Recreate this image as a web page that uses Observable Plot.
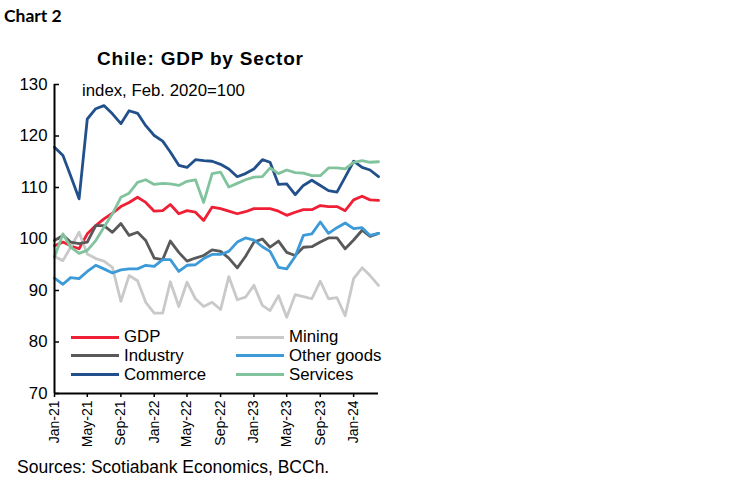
<!DOCTYPE html>
<html>
<head>
<meta charset="utf-8">
<script src="https://cdn.jsdelivr.net/npm/d3@7"></script>
<script src="https://cdn.jsdelivr.net/npm/@observablehq/plot@0.6"></script>
<style>
  body { margin: 0; background: #fff; }
  #wrap { position: relative; width: 749px; height: 482px; background: #fff; font-family: "Liberation Sans", Arial, sans-serif; color: #000; overflow: hidden; }
  .abs { position: absolute; white-space: nowrap; }
  #plot { position: absolute; left: 0; top: 70px; }
  .leg-line { position: absolute; height: 3px; }
  .leg-text { position: absolute; font-size: 16.8px; line-height: 18px; }
</style>
</head>
<body>
<div id="wrap">
  <div class="abs" style="left:4px; top:5px; font-family:'Lato','Open Sans',sans-serif; font-weight:700; font-size:17.5px;">Chart 2</div>
  <div class="abs" style="left:97px; top:48px; font-weight:700; font-size:19px; letter-spacing:0.8px;">Chile: GDP by Sector</div>
  <div id="plot"></div>
  <div class="abs" style="left:82px; top:81px; font-size:16.8px;">index, Feb. 2020=100</div>
  <div id="legend"></div>
  <div class="abs" style="left:17px; top:457px; font-size:17.5px;">Sources: Scotiabank Economics, BCCh.</div>
</div>
<script>
// Monthly, Jan-2021 .. Apr-2024
const months = d3.utcMonths(new Date(Date.UTC(2021, 0, 1)), new Date(Date.UTC(2024, 4, 1)));

const seriesNames = ["GDP", "Mining", "Industry", "Other goods", "Commerce", "Services"];
const seriesColors = ["#ef1f35", "#c9c9c9", "#595959", "#3b9ad7", "#22508a", "#80c39c"];

const gdp = [98.7, 99.4, 98.7, 98.1, 101.0, 102.6, 103.9, 105.0, 106.3, 107.1, 108.1, 107.1,
  105.4, 105.5, 106.7, 104.9, 105.5, 105.2, 103.6, 106.2, 105.9, 105.4, 104.9, 105.3,
  105.9, 105.9, 105.9, 105.4, 104.6, 105.2, 105.7, 105.7, 106.5, 106.3, 106.3, 105.5,
  107.6, 108.3, 107.6, 107.5];
const mining = [96.6, 95.8, 98.4, 101.3, 97.1, 96.2, 95.7, 94.5, 87.9, 92.9, 91.9, 87.7,
  85.6, 85.6, 91.7, 86.9, 91.6, 88.4, 86.9, 87.7, 86.3, 92.7, 88.2, 88.7,
  91.0, 87.1, 86.1, 89.0, 84.8, 89.2, 88.8, 88.4, 91.8, 88.4, 88.6, 85.1,
  92.3, 94.4, 92.9, 91.0];
const industry = [99.7, 100.7, 99.4, 99.1, 99.4, 102.6, 102.6, 101.3, 103.0, 100.7, 101.3, 99.7,
  96.3, 96.0, 99.6, 97.4, 95.7, 96.3, 96.8, 97.9, 97.6, 96.3, 94.4, 96.6,
  99.4, 100.0, 98.4, 99.6, 97.4, 96.8, 98.4, 98.5, 99.4, 100.2, 100.2, 98.1,
  99.8, 101.7, 100.5, 101.1];
const otherGoods = [92.4, 91.2, 92.5, 92.3, 93.7, 94.9, 94.2, 93.4, 94.0, 94.2, 94.2, 94.9,
  94.7, 96.0, 96.0, 93.7, 94.9, 95.0, 96.2, 97.0, 97.0, 97.6, 99.4, 100.2,
  99.8, 98.5, 97.6, 94.5, 94.2, 96.6, 100.7, 101.0, 103.3, 101.1, 102.2, 103.1,
  102.0, 102.2, 100.7, 101.1];
const commerce = [117.8, 116.2, 112.3, 107.8, 123.3, 125.3, 125.9, 124.3, 122.4, 124.9, 124.4, 122.0,
  120.1, 119.0, 116.9, 114.3, 113.9, 115.4, 115.2, 115.1, 114.5, 113.6, 112.1, 112.7,
  113.6, 115.4, 114.9, 110.6, 110.7, 108.6, 110.4, 111.4, 110.4, 109.4, 109.1, 112.0,
  115.1, 113.9, 113.4, 112.1];
const services = [96.5, 101.0, 98.4, 97.2, 97.8, 99.7, 102.3, 104.9, 108.1, 108.9, 111.0, 111.5,
  110.6, 110.8, 110.7, 110.4, 111.2, 111.5, 107.1, 112.7, 113.0, 110.1, 110.8, 111.5,
  112.0, 112.1, 113.8, 112.7, 113.4, 112.9, 112.8, 112.3, 112.3, 113.8, 113.8, 113.6,
  114.9, 115.2, 114.9, 115.0];

const yTicks = [70, 80, 90, 100, 110, 120, 130];
const xTicks = d3.utcMonth.every(4).range(new Date(Date.UTC(2021, 0, 1)), new Date(Date.UTC(2024, 1, 1)));

const seriesValues = [gdp, mining, industry, otherGoods, commerce, services];
const rows = [];
seriesNames.forEach((name, s) => {
  seriesValues[s].forEach((v, i) => rows.push({series: name, date: months[i], value: v}));
});

const width = 400, marginLeft = 54, marginRight = 22;
const frameW = width - marginLeft - marginRight;

const chart = Plot.plot({
  width,
  height: 378,
  marginLeft,
  marginRight,
  marginTop: 14,
  marginBottom: 55,
  style: {fontFamily: "'Liberation Sans', Arial, sans-serif", color: "#000", background: "transparent"},
  x: {type: "utc", domain: [months[0], months[months.length - 1]]},
  y: {domain: [70, 130]},
  color: {domain: seriesNames, range: seriesColors},
  marks: [
    Plot.axisY({ticks: yTicks, tickSize: 0, tickPadding: 7, fontSize: 16.8, label: null}),
    Plot.axisX({ticks: xTicks, tickSize: 4, tickPadding: 3, tickRotate: -90, fontSize: 14,
                tickFormat: d3.utcFormat("%b-%y"), label: null, strokeWidth: 1.5}),
    Plot.ruleY(yTicks, {stroke: "#000", strokeWidth: 1.5, insetRight: frameW - 5}),
    Plot.lineY(rows, {x: "date", y: "value", stroke: "series", z: "series", strokeWidth: 2.8,
                      strokeLinejoin: "round", curve: "linear"}),
    Plot.ruleX([months[0]], {stroke: "#000", strokeWidth: 2}),
    Plot.ruleY([70], {stroke: "#000", strokeWidth: 2})
  ]
});
document.getElementById("plot").appendChild(chart);

// Legend (two columns, three rows) overlaid inside the plot area
const legend = document.getElementById("legend");
const colX = [[71, 124], [236, 289]];
const rowY = [337, 355.5, 374.5];
seriesNames.forEach((name, k) => {
  const col = k % 2, row = Math.floor(k / 2);
  const line = document.createElement("div");
  line.className = "leg-line";
  line.style.left = colX[col][0] + "px";
  line.style.width = (colX[col][1] - colX[col][0] - 5) + "px";
  line.style.top = (rowY[row] - 1.5) + "px";
  line.style.background = seriesColors[k];
  legend.appendChild(line);
  const t = document.createElement("div");
  t.className = "leg-text";
  t.style.left = colX[col][1] + "px";
  t.style.top = (rowY[row] - 9) + "px";
  t.textContent = name;
  legend.appendChild(t);
});
</script>
</body>
</html>
